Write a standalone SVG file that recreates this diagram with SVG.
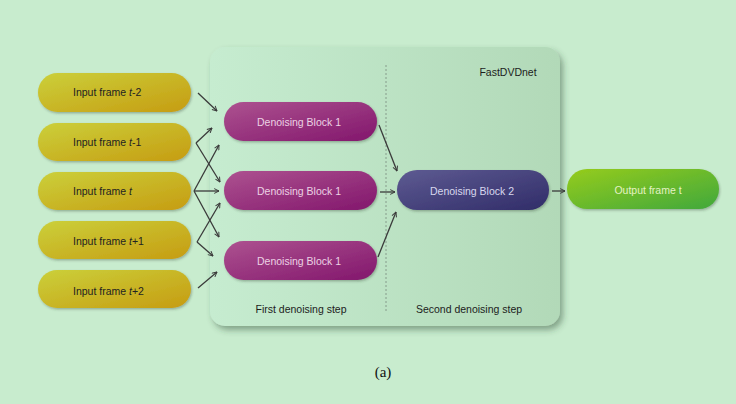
<svg xmlns="http://www.w3.org/2000/svg" width="736" height="404" viewBox="0 0 736 404">
<defs>
<linearGradient id="gCont" x1="0" y1="0" x2="1" y2="0">
<stop offset="0" stop-color="#c6ecd0"/><stop offset="1" stop-color="#b2d9b8"/>
</linearGradient>
<linearGradient id="gIn" x1="0" y1="0" x2="1" y2="1">
<stop offset="0" stop-color="#cbd03a"/><stop offset="1" stop-color="#c69c12"/>
</linearGradient>
<linearGradient id="gB1" x1="0" y1="0" x2="1" y2="1">
<stop offset="0" stop-color="#ad5290"/><stop offset="1" stop-color="#82166c"/>
</linearGradient>
<linearGradient id="gB2" x1="0" y1="0" x2="1" y2="1">
<stop offset="0" stop-color="#5e5b92"/><stop offset="1" stop-color="#302c68"/>
</linearGradient>
<linearGradient id="gOut" x1="0" y1="0" x2="1" y2="1">
<stop offset="0" stop-color="#96cc1c"/><stop offset="1" stop-color="#40a83c"/>
</linearGradient>
<filter id="shC" x="-10%" y="-10%" width="125%" height="125%">
<feDropShadow dx="3" dy="4" stdDeviation="3" flood-color="#2a4a30" flood-opacity="0.45"/>
</filter>
<filter id="shP" x="-10%" y="-20%" width="120%" height="150%">
<feDropShadow dx="1" dy="1.5" stdDeviation="1" flood-color="#304030" flood-opacity="0.35"/>
</filter>
<marker id="ah" viewBox="0 0 10 10" refX="9" refY="5" markerWidth="6" markerHeight="6" orient="auto" markerUnits="userSpaceOnUse">
<path d="M1,1 L9,5 L1,9" fill="none" stroke="#3a3a3a" stroke-width="1.6"/>
</marker>
</defs>
<style>
.t{font-family:"Liberation Sans",Arial,sans-serif;font-size:10.5px;text-anchor:middle;}
.in{fill:#222;text-anchor:start;}
.b1{fill:#ecd2e4;}
.b2{fill:#d8d8ee;}
.out{fill:#e4f2c4;}
.lbl{fill:#1c1c1c;}
.pill{filter:url(#shP);}
.c line{stroke:#3a3a3a;stroke-width:1.3;marker-end:url(#ah);}
</style>
<rect width="736" height="404" fill="#c8ecce"/>
<g id="container">
<rect x="210" y="47" width="350" height="279" rx="15" fill="url(#gCont)" filter="url(#shC)"/>
<line x1="386" y1="65" x2="386" y2="313" stroke="#7a8a7e" stroke-width="0.8" stroke-dasharray="2,2"/>
<text class="t lbl" x="508" y="76">FastDVDnet</text>
<text class="t lbl" x="301" y="313">First denoising step</text>
<text class="t lbl" x="469" y="313">Second denoising step</text>
</g>
<g id="in-t-2"><rect class="pill" x="38" y="73" width="153" height="39" rx="19.5" fill="url(#gIn)"/><text class="t in" x="73" y="96">Input frame <tspan font-style="italic">t</tspan>-2</text></g>
<g id="in-t-1"><rect class="pill" x="38" y="123" width="153" height="38" rx="19" fill="url(#gIn)"/><text class="t in" x="73" y="146">Input frame <tspan font-style="italic">t</tspan>-1</text></g>
<g id="in-t"><rect class="pill" x="38" y="172" width="153" height="38" rx="19" fill="url(#gIn)"/><text class="t in" x="73" y="195">Input frame <tspan font-style="italic">t</tspan></text></g>
<g id="in-t+1"><rect class="pill" x="38" y="221" width="153" height="38" rx="19" fill="url(#gIn)"/><text class="t in" x="73" y="245">Input frame <tspan font-style="italic">t</tspan>+1</text></g>
<g id="in-t+2"><rect class="pill" x="38" y="270" width="153" height="38" rx="19" fill="url(#gIn)"/><text class="t in" x="73" y="295">Input frame <tspan font-style="italic">t</tspan>+2</text></g>
<g id="db1-top"><rect class="pill" x="224" y="102" width="153" height="39" rx="19.5" fill="url(#gB1)"/><text class="t b1" x="299" y="126">Denoising Block 1</text></g>
<g id="db1-mid"><rect class="pill" x="224" y="171" width="153" height="39" rx="19.5" fill="url(#gB1)"/><text class="t b1" x="299" y="195">Denoising Block 1</text></g>
<g id="db1-bot"><rect class="pill" x="224" y="241" width="153" height="39" rx="19.5" fill="url(#gB1)"/><text class="t b1" x="299" y="265">Denoising Block 1</text></g>
<g id="db2"><rect class="pill" x="397" y="170" width="152" height="40" rx="20" fill="url(#gB2)"/><text class="t b2" x="472" y="195">Denoising Block 2</text></g>
<g id="out"><rect class="pill" x="567" y="169" width="152" height="40" rx="20" fill="url(#gOut)"/><text class="t out" x="648" y="194">Output frame t</text></g>
<g id="connectors" class="c">
<line x1="198" y1="93" x2="217" y2="111"/>
<line x1="196" y1="143" x2="212" y2="128"/>
<line x1="196" y1="143" x2="220" y2="182"/>
<line x1="194" y1="191" x2="219" y2="145"/>
<line x1="194" y1="191" x2="219" y2="191"/>
<line x1="194" y1="191" x2="219" y2="237"/>
<line x1="197" y1="242" x2="220" y2="203"/>
<line x1="197" y1="242" x2="213" y2="256"/>
<line x1="198" y1="288" x2="217" y2="272"/>
<line x1="379" y1="125" x2="397" y2="171"/>
<line x1="380" y1="192" x2="395" y2="192"/>
<line x1="378" y1="257" x2="396" y2="212"/>
<line x1="552" y1="191" x2="565" y2="191"/>
</g>
<text x="383" y="377" font-family="Liberation Serif,'Times New Roman',serif" font-size="15" text-anchor="middle" fill="#111">(a)</text>
</svg>
